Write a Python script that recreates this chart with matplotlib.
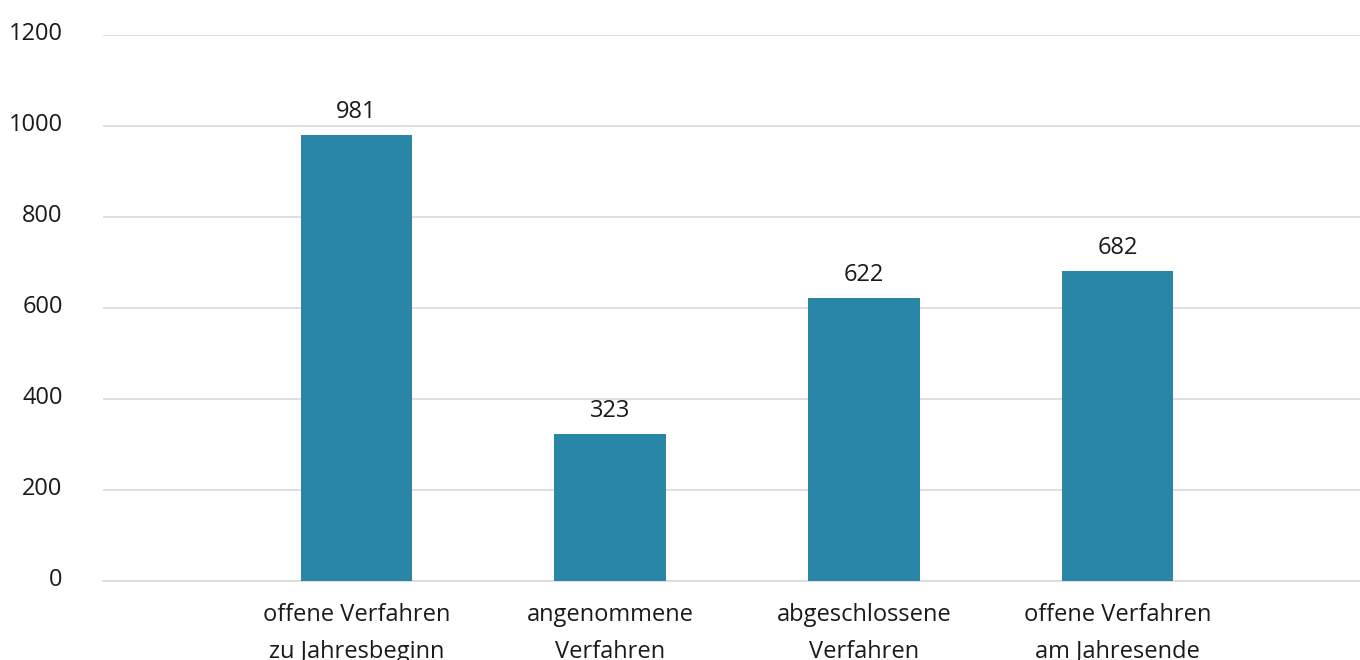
import matplotlib.pyplot as plt
import matplotlib.transforms as mtransforms
import numpy as np

plt.rcParams['font.family'] = ['Open Sans', 'DejaVu Sans']

categories = ['offene Verfahren\nzu Jahresbeginn', 'angenommene\nVerfahren',
              'abgeschlossene\nVerfahren', 'offene Verfahren\nam Jahresende']
values = [981, 323, 622, 682]
yticks = [0, 200, 400, 600, 800, 1000, 1200]

fig = plt.figure(figsize=(13.6, 6.6), dpi=100)
ax = fig.add_axes([103 / 1360, 1 - 581 / 660, 1 - 103 / 1360, (581 - 35) / 660])

x = np.arange(1, len(values) + 1)
bars = ax.bar(x, values, width=0.44, color='#2986A6', zorder=3)
ax.bar_label(bars, labels=[str(v) for v in values], padding=8, fontsize=17, color='#1a1a1a')

ax.set_xlim(0, 4.956)
ax.set_ylim(0, 1200)
ax.set_yticks(yticks)
ax.set_yticklabels([str(t) for t in yticks], fontsize=17, color='#1a1a1a')
ax.set_xticks(x)
ax.set_xticklabels(categories, fontsize=17, color='#1a1a1a', linespacing=1.7)
ax.tick_params(axis='y', length=0, pad=29)
ax.tick_params(axis='x', length=0, pad=16)

shift = mtransforms.ScaledTranslation(0, 4 / 100, fig.dpi_scale_trans)
for lbl in ax.get_yticklabels():
    lbl.set_transform(lbl.get_transform() + shift)

ax.grid(axis='y', color='#d9d9d9', linewidth=1.2, zorder=0)
for s in ['top', 'right', 'left']:
    ax.spines[s].set_visible(False)
ax.spines['bottom'].set_color('#d9d9d9')
ax.spines['bottom'].set_linewidth(1.2)

fig.savefig('out.png', dpi=100)
